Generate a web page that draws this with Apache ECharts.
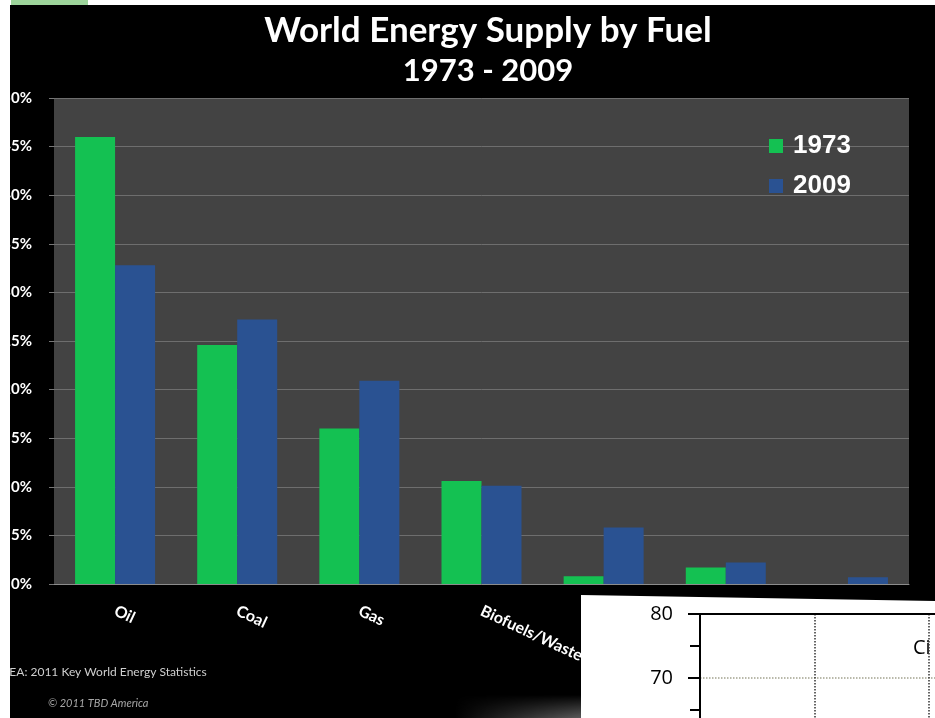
<!DOCTYPE html>
<html lang="en">
<head>
<meta charset="UTF-8">
<title>World Energy Supply by Fuel</title>
<script src="https://cdn.jsdelivr.net/npm/echarts@6/dist/echarts.min.js"></script>
<style>
    html, body { margin: 0; padding: 0; width: 935px; height: 718px; overflow: hidden; background: #fff; }
    #strip { position: absolute; left: 11px; top: 0; width: 77px; height: 5px; background: #9dd49b; }
    #main { position: absolute; left: 10px; top: 5px; width: 925px; height: 713px; background: #000; }
    #shade { position: absolute; left: 455px; top: 695px; width: 127px; height: 23px;
             background: linear-gradient(to right, rgba(90,90,90,0), rgba(90,90,90,1));
             -webkit-mask-image: linear-gradient(to bottom, transparent, #000);
             mask-image: linear-gradient(to bottom, transparent, #000); }
    #panel { position: absolute; left: 581px; top: 594px; width: 354px; height: 124px; background: #fff;
             clip-path: polygon(0 1px, 100% 7px, 100% 100%, 0 100%); }
    #inset { position: absolute; left: 582px; top: 596px; width: 650px; height: 320px; }
</style>
</head>
<body>
<div id="strip"></div>
<div id="main"></div>
<div id="shade"></div>
<div id="panel"></div>
<div id="inset"></div>
<script>
    // main chart data (% of total primary energy supply)
    var categories = ['Oil', 'Coal', 'Gas', 'Biofuels/Waste', 'Nuclear', 'Hydro', 'Other'];
    var share1973 = [46.0, 24.6, 16.0, 10.6, 0.8, 1.7, 0];
    var share2009 = [32.8, 27.2, 20.9, 10.1, 5.8, 2.2, 0.7];
    var yearNames = ['1973', '2009'];

    // inset chart (only its axes are visible)
    var insetYMin = 40;
    var insetYMax = 80;
    var insetXMax = 4;

    var chart = echarts.init(document.getElementById('main'));
    chart.setOption({
        backgroundColor: '#000',
        animation: false,
        title: {
            text: '{a|World Energy Supply by Fuel}\n{b|1973 - 2009}',
            left: 478,
            top: 5,
            textAlign: 'center',
            padding: 0,
            textStyle: {
                color: '#fff', fontFamily: 'Lato', fontWeight: 'bold', fontSize: 30, lineHeight: 40,
                rich: {
                    a: { color: '#fff', fontFamily: 'Lato', fontWeight: 'bold', fontSize: 35, lineHeight: 42 },
                    b: { color: '#fff', fontFamily: 'Lato', fontWeight: 'bold', fontSize: 31, lineHeight: 38 }
                }
            }
        },
        legend: {
            data: yearNames,
            orient: 'vertical',
            left: 754,
            top: 123,
            itemWidth: 14,
            itemHeight: 14,
            itemGap: 14,
            icon: 'rect',
            textStyle: { color: '#fff', fontFamily: 'Liberation Sans', fontWeight: 'bold', fontSize: 26, padding: [0, 0, 0, 5] }
        },
        grid: {
            left: 44, right: 26, top: 93, bottom: 134,
            outerBoundsMode: 'none',
            show: true, backgroundColor: '#434343', borderWidth: 0
        },
        xAxis: {
            type: 'category',
            data: categories,
            axisLine: { lineStyle: { color: '#8c8c8c', width: 1 } },
            axisTick: { length: 7, lineStyle: { color: '#8c8c8c' } },
            axisLabel: {
                rotate: -25, margin: 26, interval: 0,
                color: '#fff', fontFamily: 'Lato', fontWeight: 'bold', fontSize: 16
            }
        },
        yAxis: {
            type: 'value',
            min: 0, max: 50, interval: 5,
            axisLine: { show: false },
            axisTick: { show: true, length: 5, lineStyle: { color: '#777' } },
            axisLabel: { formatter: '{value}%', margin: 22, color: '#fff', fontFamily: 'Lato', fontWeight: 'bold', fontSize: 15 },
            splitLine: { lineStyle: { color: '#6e6e6e', width: 1 } }
        },
        graphic: [
            { type: 'text', x: -4, y: 667, style: { text: 'IEA: 2011 Key World Energy Statistics', fill: '#cfcfcf', font: '12px Lato', align: 'left', verticalAlign: 'middle' } },
            { type: 'text', x: 38, y: 698, style: { text: '\u00a9 2011 TBD America', fill: '#a8a8a8', font: 'italic 11px Lato', align: 'left', verticalAlign: 'middle' } }
        ],
        series: [
            { name: yearNames[0], type: 'bar', data: share1973, barWidth: 40, barGap: '0%', itemStyle: { color: '#14c152' } },
            { name: yearNames[1], type: 'bar', data: share2009, barWidth: 40, itemStyle: { color: '#2a5292' } }
        ]
    });

    var inset = echarts.init(document.getElementById('inset'));
    inset.setOption({
        animation: false,
        grid: { left: 118, top: 18, width: 458, height: 256, outerBoundsMode: 'none' },
        xAxis: {
            type: 'value', position: 'top',
            min: 0, max: insetXMax, interval: 1,
            axisLine: { show: true, lineStyle: { color: '#000', width: 2 } },
            axisTick: { show: false },
            axisLabel: { show: false },
            splitLine: { show: true, showMinLine: false, lineStyle: { type: 'dotted', color: '#333', width: 1.5 } }
        },
        yAxis: {
            type: 'value',
            min: insetYMin, max: insetYMax, interval: 10,
            axisLine: { show: true, lineStyle: { color: '#000', width: 2 } },
            axisTick: { show: true, length: 12, lineStyle: { color: '#000', width: 2 } },
            minorTick: { show: true, splitNumber: 2, length: 10, lineStyle: { color: '#000', width: 2 } },
            axisLabel: { margin: 27, color: '#000', fontFamily: 'Open Sans', fontSize: 20 },
            splitLine: { show: true, showMaxLine: false, lineStyle: { type: 'dotted', color: '#a3a38f', width: 1.5 } }
        },
        graphic: [
            { type: 'text', x: 331, y: 52, style: { text: 'Ci', fill: '#000', font: '20px "Open Sans"', align: 'left', verticalAlign: 'middle' } }
        ],
        series: [{ type: 'line', data: [] }]
    });
</script>
</body>
</html>
